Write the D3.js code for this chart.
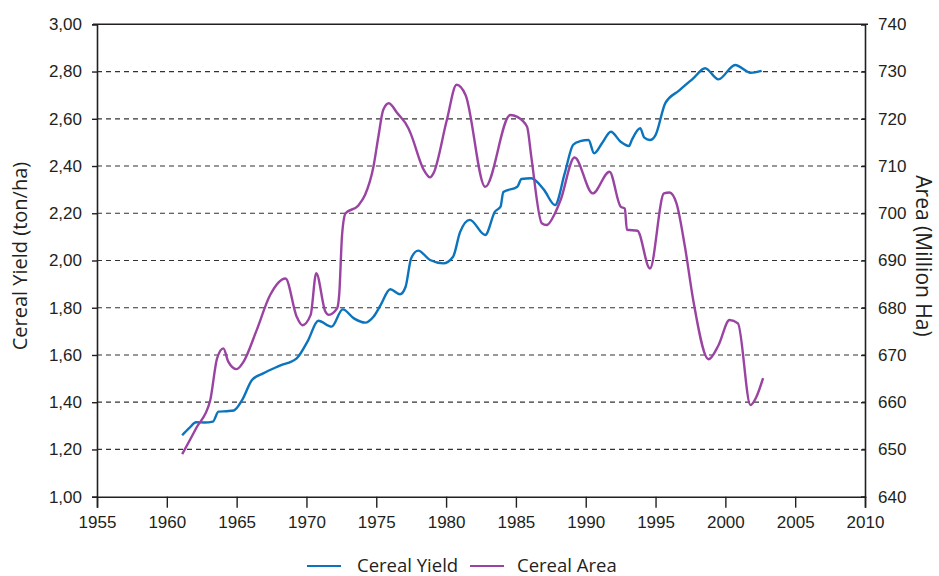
<!DOCTYPE html>
<html>
<head>
<meta charset="utf-8">
<script src="https://cdn.jsdelivr.net/npm/d3@7"></script>
<style>
  body { margin: 0; background: #fff; }
  svg { display: block; font-family: "Open Sans", sans-serif; }
</style>
</head>
<body>
<svg id="chart" width="939" height="576"></svg>
<script>
// yield (ton/ha)
const yieldYears = [1961.1, 1961.6, 1962.1, 1962.7, 1963.3, 1963.7, 1964.3, 1964.8, 1965.4, 1966.1,
  1966.9, 1968.1, 1969.3, 1970.1, 1970.85, 1971.8, 1972.6, 1973.4, 1974.2, 1974.8,
  1975.3, 1976.0, 1976.7, 1977.1, 1977.5, 1978.0, 1978.85, 1979.8, 1980.5, 1981.0,
  1981.7, 1982.8, 1983.5, 1983.9, 1984.1, 1985.1, 1985.4, 1986.1, 1987.0, 1987.8,
  1988.5, 1989.1, 1989.6, 1990.2, 1990.6, 1991.2, 1991.8, 1992.5, 1993.1, 1993.3,
  1993.9, 1994.2, 1994.6, 1995.0, 1995.7, 1996.7, 1997.7, 1998.55, 1999.5, 2000.7,
  2001.8, 2002.6];
const yieldValues = [1.26, 1.29, 1.315, 1.314, 1.318, 1.36, 1.362, 1.365, 1.41, 1.494,
  1.522, 1.555, 1.586, 1.66, 1.745, 1.72, 1.793, 1.755, 1.737, 1.762,
  1.81, 1.878, 1.857, 1.889, 2.01, 2.042, 2.002, 1.988, 2.016, 2.12,
  2.172, 2.108, 2.207, 2.228, 2.29, 2.312, 2.345, 2.348, 2.3, 2.235,
  2.37, 2.49, 2.505, 2.51, 2.454, 2.5, 2.545, 2.503, 2.485, 2.51,
  2.56, 2.52, 2.51, 2.531, 2.666, 2.72, 2.771, 2.814, 2.767, 2.828,
  2.795, 2.803];

// area (million ha)
const areaYears = [1961.1, 1962.1, 1963.1, 1963.6, 1964.05, 1964.4, 1965.0, 1965.5, 1966.4, 1967.4,
  1968.5, 1969.3, 1969.7, 1970.3, 1970.7, 1971.35, 1971.6, 1972.2, 1972.35, 1972.55,
  1972.8, 1973.7, 1974.2, 1974.8, 1975.15, 1975.5, 1975.9, 1976.5, 1977.3, 1977.5,
  1978.4, 1978.85, 1979.1, 1980.05, 1980.75, 1981.4, 1982.8, 1984.6, 1985.1, 1985.8,
  1986.1, 1986.85, 1987.2, 1987.8, 1988.2, 1989.2, 1990.5, 1991.7, 1992.5, 1992.8,
  1992.95, 1993.7, 1994.6, 1995.6, 1996.0, 1996.5, 1997.1, 1997.7, 1998.8, 1999.5,
  2000.3, 2000.9, 2001.8, 2002.2, 2002.7];
const areaValues = [649.0, 654.5, 660.3, 669.3, 671.4, 668.6, 667.0, 668.6, 675.0, 682.7,
  686.2, 678.1, 676.3, 678.5, 687.3, 679.2, 678.5, 679.9, 683.0, 695.4,
  700.0, 701.6, 703.9, 709.9, 716.2, 721.9, 723.3, 721.2, 718.0, 716.6,
  709.2, 707.6, 708.5, 719.7, 727.2, 725.0, 705.6, 720.8, 720.4, 718.3,
  712.0, 697.9, 697.5, 700.0, 702.8, 711.8, 704.2, 708.8, 701.4, 701.0,
  696.5, 696.3, 688.3, 704.2, 704.4, 702.1, 693.0, 681.6, 669.1, 672.0,
  677.4, 676.7, 659.4, 661.0, 665.1];

const xTicks = [1955, 1960, 1965, 1970, 1975, 1980, 1985, 1990, 1995, 2000, 2005, 2010];
const yieldTicks = [1.0, 1.2, 1.4, 1.6, 1.8, 2.0, 2.2, 2.4, 2.6, 2.8, 3.0];
const areaTicks = [640, 650, 660, 670, 680, 690, 700, 710, 720, 730, 740];

const seriesNames = ['Cereal Yield', 'Cereal Area'];
const seriesColors = ['#0b74bd', '#9a43a2'];

const svg = d3.select('#chart');
const plot = { left: 97, right: 865, top: 24.3, bottom: 496.7 };
const ink = '#231f20';

const x = d3.scaleLinear().domain([1955, 2010]).range([plot.left, plot.right]);
const yL = d3.scaleLinear().domain([1, 3]).range([plot.bottom, plot.top]);
const yR = d3.scaleLinear().domain([640, 740]).range([plot.bottom, plot.top]);

const fmt = v => d3.format('.2f')(v).replace('.', ',');

// dashed grid lines
svg.append('g')
  .selectAll('line')
  .data(yieldTicks.filter(t => t > 1 && t < 3))
  .enter().append('line')
  .attr('x1', plot.left).attr('x2', plot.right)
  .attr('y1', d => yL(d)).attr('y2', d => yL(d))
  .attr('stroke', '#333')
  .attr('stroke-width', 1.2)
  .attr('stroke-dasharray', '5,4');

// top border
svg.append('line')
  .attr('x1', plot.left - 4).attr('x2', plot.right + 3)
  .attr('y1', plot.top).attr('y2', plot.top)
  .attr('stroke', ink).attr('stroke-width', 1.6);

// axes
const xAxis = svg.append('g')
  .attr('transform', `translate(0,${plot.bottom})`)
  .call(d3.axisBottom(x).tickValues(xTicks).tickFormat(d3.format('d')).tickSize(11).tickPadding(8));

const leftAxis = svg.append('g')
  .attr('transform', `translate(${plot.left},0)`)
  .call(d3.axisLeft(yL).tickValues(yieldTicks).tickFormat(fmt).tickSize(5).tickPadding(10));

const rightAxis = svg.append('g')
  .attr('transform', `translate(${plot.right},0)`)
  .call(d3.axisRight(yR).tickValues(areaTicks).tickSize(-4).tickPadding(13));

[xAxis, leftAxis, rightAxis].forEach(a => {
  a.select('.domain').attr('stroke', ink).attr('stroke-width', 1.6);
  a.selectAll('.tick line').attr('stroke', ink).attr('stroke-width', 1.4);
  a.selectAll('.tick text').attr('fill', ink).style('font-size', '17px');
});

// lines
const yieldData = yieldYears.map((yr, i) => [yr, yieldValues[i]]);
const areaData = areaYears.map((yr, i) => [yr, areaValues[i]]);

svg.append('path')
  .datum(yieldData)
  .attr('fill', 'none')
  .attr('stroke', seriesColors[0])
  .attr('stroke-width', 2.4)
  .attr('d', d3.line().x(d => x(d[0])).y(d => yL(d[1])).curve(d3.curveMonotoneX));

svg.append('path')
  .datum(areaData)
  .attr('fill', 'none')
  .attr('stroke', seriesColors[1])
  .attr('stroke-width', 2.4)
  .attr('d', d3.line().x(d => x(d[0])).y(d => yR(d[1])).curve(d3.curveMonotoneX));

// axis titles
svg.append('text')
  .attr('transform', 'translate(27,256) rotate(-90)')
  .attr('text-anchor', 'middle')
  .attr('fill', ink)
  .style('font-size', '20px')
  .text('Cereal Yield (ton/ha)');

svg.append('text')
  .attr('transform', 'translate(916,256) rotate(90)')
  .attr('text-anchor', 'middle')
  .attr('fill', ink)
  .style('font-size', '21px')
  .text('Area (Million Ha)');

// legend
const legendX = [307, 470];
const legendTextX = [50, 47];
const legend = svg.append('g')
  .selectAll('g')
  .data(seriesNames)
  .enter().append('g')
  .attr('transform', (d, i) => `translate(${legendX[i]},566)`);

legend.append('line')
  .attr('x1', 0).attr('x2', 34)
  .attr('stroke', (d, i) => seriesColors[i])
  .attr('stroke-width', 2);

legend.append('text')
  .attr('x', (d, i) => legendTextX[i]).attr('y', 6)
  .attr('fill', ink)
  .style('font-size', '18.5px')
  .text(d => d);
</script>
</body>
</html>
